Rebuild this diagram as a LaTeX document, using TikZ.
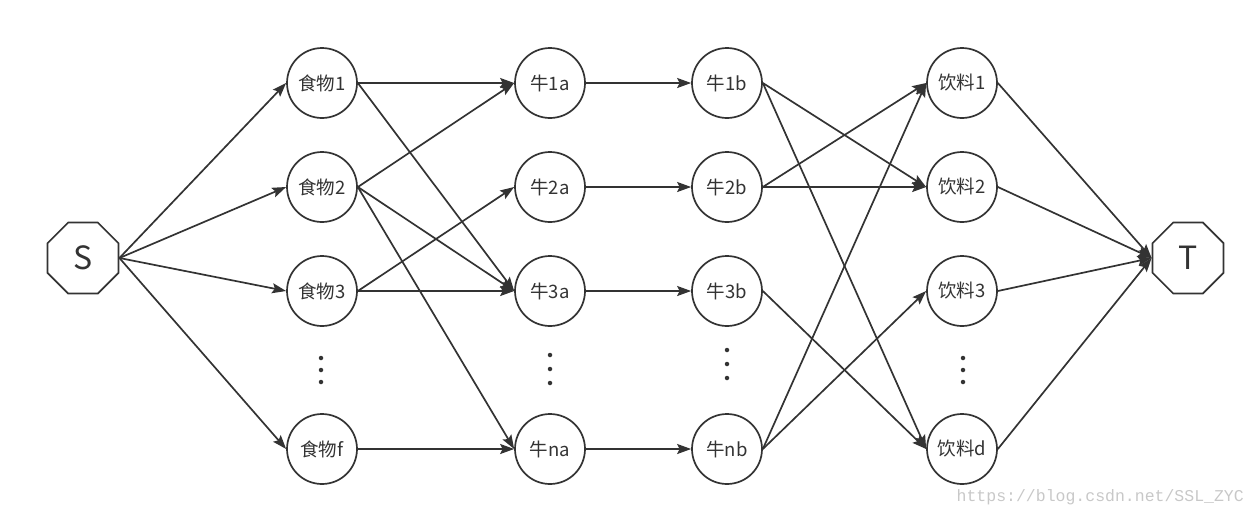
\documentclass[tikz,border=0pt]{standalone}
\usepackage{fontspec}
\setmainfont{Noto Sans CJK SC}
\newfontfamily\wmfont{Liberation Mono}
\usetikzlibrary{arrows.meta,shapes.geometric}
\definecolor{ink}{HTML}{333333}
\definecolor{wm}{HTML}{C8C8C8}
\tikzset{
  vnode/.style={circle,draw=ink,line width=1.7pt,minimum size=70pt,inner sep=0pt,text=ink,font=\fontsize{18.5}{22}\selectfont},
  term/.style={regular polygon,regular polygon sides=8,draw=ink,line width=1.7pt,minimum size=77pt,inner sep=0pt,text=ink,font=\fontsize{32}{36}\selectfont},
  edge/.style={draw=ink,line width=1.7pt,-{Stealth[length=14pt,width=10pt,inset=2.5pt]}},
  vdot/.style={circle,fill=ink,inner sep=0pt,minimum size=4.5pt},
}
\begin{document}
\begin{tikzpicture}[x=1pt,y=-1pt]
\useasboundingbox (0,0) rectangle (1255,517);
% terminals
\node[term] (S) at (83,258) {S};
\node[term] (T) at (1188,258) {T};
% food column
\node[vnode] (f1) at (322,83) {食物1};
\node[vnode] (f2) at (322,187) {食物2};
\node[vnode] (f3) at (322,291) {食物3};
\node[vnode] (ff) at (322,449) {食物f};
% cow a column
\node[vnode] (a1) at (550,83) {牛1a};
\node[vnode] (a2) at (550,187) {牛2a};
\node[vnode] (a3) at (550,291) {牛3a};
\node[vnode] (an) at (550,449) {牛na};
% cow b column
\node[vnode] (b1) at (727,83) {牛1b};
\node[vnode] (b2) at (727,187) {牛2b};
\node[vnode] (b3) at (727,291) {牛3b};
\node[vnode] (bn) at (727,449) {牛nb};
% drink column
\node[vnode] (d1) at (962,83) {饮料1};
\node[vnode] (d2) at (962,187) {饮料2};
\node[vnode] (d3) at (962,291) {饮料3};
\node[vnode] (dd) at (962,449) {饮料d};
% ellipsis dots
\foreach \y in {358,370,382} \node[vdot] at (321,\y) {};
\foreach \y in {355,369,383} \node[vdot] at (550,\y) {};
\foreach \y in {350,364,378} \node[vdot] at (727,\y) {};
\foreach \y in {358,370,382} \node[vdot] at (963,\y) {};
% S -> food
\foreach \t in {f1,f2,f3,ff} \path[edge] (S.east) -- (\t.west);
% food -> cow a
\path[edge] (f1.east) -- (a1.west);
\path[edge] (f1.east) -- (a3.west);
\path[edge] (f2.east) -- (a1.west);
\path[edge] (f2.east) -- (a3.west);
\path[edge] (f2.east) -- (an.west);
\path[edge] (f3.east) -- (a2.west);
\path[edge] (f3.east) -- (a3.west);
\path[edge] (ff.east) -- (an.west);
% cow a -> cow b
\path[edge] (a1.east) -- (b1.west);
\path[edge] (a2.east) -- (b2.west);
\path[edge] (a3.east) -- (b3.west);
\path[edge] (an.east) -- (bn.west);
% cow b -> drink
\path[edge] (b1.east) -- (d2.west);
\path[edge] (b1.east) -- (dd.west);
\path[edge] (b2.east) -- (d1.west);
\path[edge] (b2.east) -- (d2.west);
\path[edge] (b3.east) -- (dd.west);
\path[edge] (bn.east) -- (d1.west);
\path[edge] (bn.east) -- (d3.west);
% drink -> T
\foreach \s in {d1,d2,d3,dd} \path[edge] (\s.east) -- (T.west);
% watermark
\node[anchor=east,text=wm,font=\wmfont\fontsize{16.5}{18}\selectfont,inner sep=0pt] (wmk) at (1244,497) {https://blog.csdn.net/SSL\_ZYC};
\end{tikzpicture}
\end{document}
